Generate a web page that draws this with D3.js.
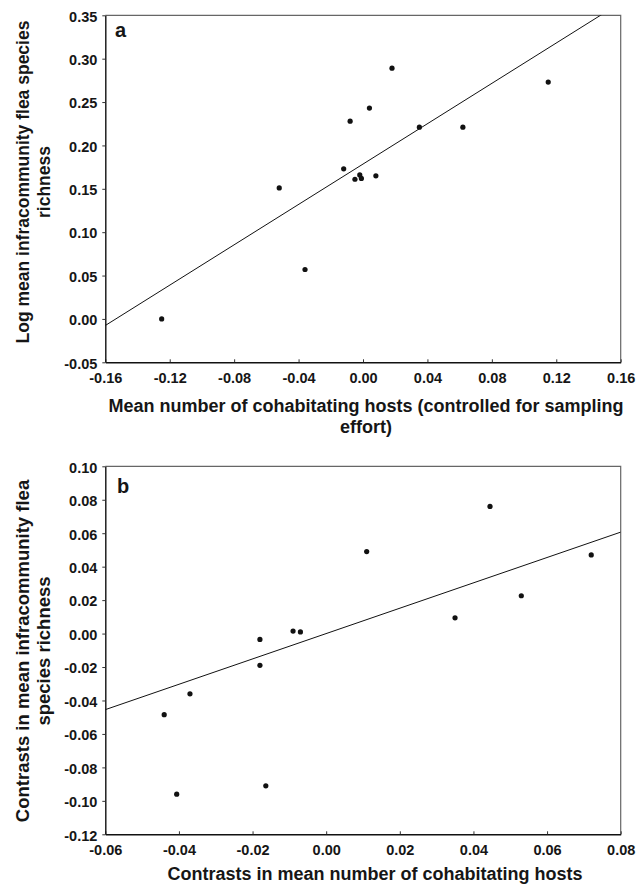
<!DOCTYPE html>
<html>
<head>
<meta charset="utf-8">
<script src="https://cdn.jsdelivr.net/npm/d3@7"></script>
<style>
  body { margin: 0; background: #fff; }
  svg text { font-family: "Liberation Sans", Arial, sans-serif; font-weight: bold; fill: #161616; }
</style>
</head>
<body>
<div id="chart"></div>
<script>
// panel a: mean number of cohabitating hosts vs log flea richness
var aX = [-0.125, -0.036, -0.052, -0.012, -0.005, -0.002, -0.001, 0.008, -0.008, 0.004, 0.018, 0.035, 0.062, 0.115];
var aY = [0.000, 0.057, 0.151, 0.173, 0.161, 0.166, 0.162, 0.165, 0.228, 0.243, 0.289, 0.221, 0.221, 0.273];
var aFit = [0.1785, 1.163];   // intercept, slope
var aXTicks = [-0.16, -0.12, -0.08, -0.04, 0.00, 0.04, 0.08, 0.12, 0.16];
var aYTicks = [-0.05, 0.00, 0.05, 0.10, 0.15, 0.20, 0.25, 0.30, 0.35];

// panel b: contrasts
var bX = [-0.044, -0.0406, -0.037, -0.018, -0.018, -0.0164, -0.009, -0.007, 0.011, 0.035, 0.0445, 0.053, 0.072];
var bY = [-0.0485, -0.096, -0.036, -0.019, -0.0035, -0.091, 0.0015, 0.001, 0.049, 0.0094, 0.076, 0.0226, 0.047];
var bFit = [0.0, 0.758];
var bXTicks = [-0.06, -0.04, -0.02, 0.00, 0.02, 0.04, 0.06, 0.08];
var bYTicks = [-0.12, -0.10, -0.08, -0.06, -0.04, -0.02, 0.00, 0.02, 0.04, 0.06, 0.08, 0.10];

var width = 637, height = 884;
var left = 105.3, right = 620.7;

var svg = d3.select("#chart").append("svg")
    .attr("width", width)
    .attr("height", height);

function fmt(d) {
    if (Math.abs(d) < 1e-9) return "0.00";
    return d.toFixed(2);
}

function drawPanel(opt) {
    var x = d3.scaleLinear().domain(d3.extent(opt.xTicks)).range([left, right]);
    var y = d3.scaleLinear().domain(d3.extent(opt.yTicks)).range([opt.bottom, opt.top]);
    var g = svg.append("g");

    // grey frame on top and right
    g.append("path")
        .attr("d", "M" + left + "," + opt.top + "H" + right + "V" + opt.bottom)
        .attr("fill", "none")
        .attr("stroke", "#666")
        .attr("stroke-width", 1.2);

    var xAxis = d3.axisBottom(x).tickValues(opt.xTicks).tickFormat(fmt)
        .tickSizeInner(-3).tickSizeOuter(0).tickPadding(10.5);
    var yAxis = d3.axisLeft(y).tickValues(opt.yTicks).tickFormat(fmt)
        .tickSizeInner(3).tickSizeOuter(0).tickPadding(5);

    var gx = g.append("g").attr("transform", "translate(0," + opt.bottom + ")").call(xAxis);
    var gy = g.append("g").attr("transform", "translate(" + left + ",0)").call(yAxis);
    [gx, gy].forEach(function (a) {
        a.select(".domain").attr("stroke", "#111").attr("stroke-width", 1.4);
        a.selectAll(".tick line").attr("stroke", "#333");
        a.selectAll("text").attr("font-size", 14.5).attr("font-family", null);
    });
    gy.selectAll("text").attr("dy", "0.4em");

    // clip for regression line
    var clipId = "clip" + opt.letter;
    svg.append("clipPath").attr("id", clipId)
        .append("rect")
        .attr("x", left).attr("y", opt.top)
        .attr("width", right - left).attr("height", opt.bottom - opt.top);

    var xd = x.domain();
    var line = d3.line()
        .x(function (d) { return x(d); })
        .y(function (d) { return y(opt.fit[0] + opt.fit[1] * d); });
    g.append("path")
        .datum(xd)
        .attr("clip-path", "url(#" + clipId + ")")
        .attr("d", line)
        .attr("fill", "none")
        .attr("stroke", "#111")
        .attr("stroke-width", 1);

    g.selectAll("circle.pt")
        .data(d3.zip(opt.xs, opt.ys))
        .enter()
        .append("circle")
        .attr("class", "pt")
        .attr("cx", function (d) { return x(d[0]); })
        .attr("cy", function (d) { return y(d[1]); })
        .attr("r", 2.6)
        .attr("fill", "#111");

    // panel letter
    g.append("text")
        .attr("x", opt.letterX)
        .attr("y", opt.letterY)
        .attr("font-size", 20)
        .text(opt.letter);

    // y title (two lines)
    var cy = opt.yTitleC;
    opt.yTitle.forEach(function (t, i) {
        g.append("text")
            .attr("transform", "translate(" + (29 + i * 21) + "," + cy + ") rotate(-90)")
            .attr("text-anchor", "middle")
            .attr("font-size", opt.yTitleSize)
            .text(t);
    });

    // x title
    opt.xTitle.forEach(function (t, i) {
        g.append("text")
            .attr("x", opt.xTitleX)
            .attr("y", opt.xTitleY + i * 21)
            .attr("text-anchor", "middle")
            .attr("font-size", 18)
            .text(t);
    });
}

drawPanel({
    letter: "a", letterX: 115, letterY: 37,
    top: 15.3, bottom: 362.3,
    xTicks: aXTicks, yTicks: aYTicks,
    xs: aX, ys: aY, fit: aFit,
    yTitle: ["Log mean infracommunity flea species", "richness"], yTitleC: 182, yTitleSize: 17.5,
    xTitle: ["Mean number of cohabitating hosts (controlled for sampling", "effort)"],
    xTitleX: 366, xTitleY: 412
});

drawPanel({
    letter: "b", letterX: 117, letterY: 493,
    top: 466.3, bottom: 834.3,
    xTicks: bXTicks, yTicks: bYTicks,
    xs: bX, ys: bY, fit: bFit,
    yTitle: ["Contrasts in mean infracommunity flea", "species richness"], yTitleC: 651, yTitleSize: 18.5,
    xTitle: ["Contrasts in mean number of cohabitating hosts"],
    xTitleX: 375, xTitleY: 880
});
</script>
</body>
</html>
